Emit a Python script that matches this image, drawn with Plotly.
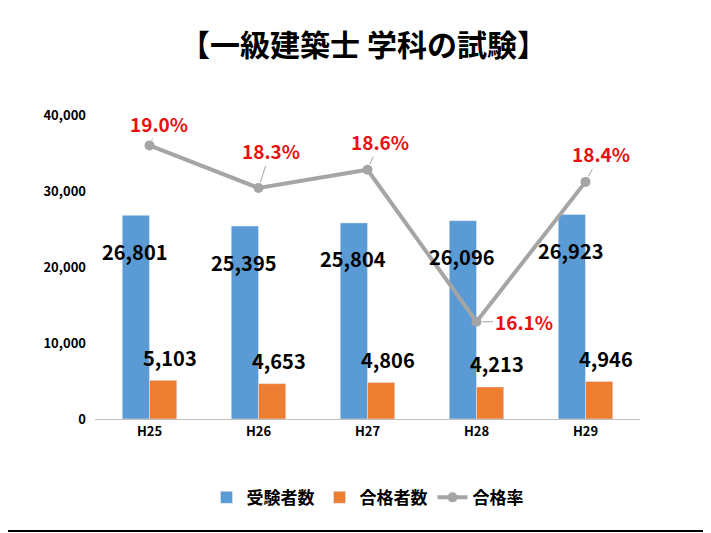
import plotly.graph_objects as go

years = ["H25", "H26", "H27", "H28", "H29"]
examinees = [26801, 25395, 25804, 26096, 26923]
passers = [5103, 4653, 4806, 4213, 4946]
rates = [19.0, 18.3, 18.6, 16.1, 18.4]
rate_label_offsets = [(9, -22), (12, -37), (12, -28), (47, 0), (15, -28)]

F = "Noto Sans CJK JP"
fig = go.Figure()
fig.add_bar(x=years, y=examinees, name="<b>受験者数</b>", marker_color="#5B9BD5", offsetgroup="a")
fig.add_bar(x=years, y=passers, name="<b>合格者数</b>", marker_color="#ED7D31", offsetgroup="b")
fig.add_scatter(x=years, y=rates, name="<b>合格率</b>", yaxis="y2", mode="lines+markers",
                line=dict(color="#A5A5A5", width=4), marker=dict(size=10, color="#A5A5A5"))

ann = []
for x, v in zip(years, examinees):
    ann.append(dict(x=x, y=v, xref="x", yref="y", text=f"<b>{v:,}</b>", showarrow=False,
                    xshift=-15, yshift=-36, font=dict(size=20, color="black", family=F)))
for x, v in zip(years, passers):
    ann.append(dict(x=x, y=v, xref="x", yref="y", text=f"<b>{v:,}</b>", showarrow=False,
                    xshift=20, yshift=23, font=dict(size=20, color="black", family=F)))
for x, v, (dx, dy) in zip(years, rates, rate_label_offsets):
    ann.append(dict(x=x, y=v, xref="x", yref="y2", text=f"<b>{v:.1f}%</b>", showarrow=True,
                    arrowhead=0, arrowcolor="#A5A5A5", arrowwidth=1, ax=dx, ay=dy, standoff=6,
                    font=dict(size=19, color="#E81010", family=F)))

fig.update_layout(
    width=711, height=533, paper_bgcolor="white", plot_bgcolor="white",
    margin=dict(l=87, r=79, t=107, b=122),
    title=dict(text="<b>【一級建築士 学科の試験】</b>", x=0.5, xanchor="center", y=0.93,
               yanchor="middle", font=dict(size=30, color="black", family=F)),
    bargap=0.5, bargroupgap=0,
    xaxis=dict(showline=True, linecolor="#BFBFBF", linewidth=1, ticks="",
               tickprefix="<b>", ticksuffix="</b>",
               tickfont=dict(size=13, color="black", family=F)),
    yaxis=dict(range=[0, 40000], dtick=10000, tickformat=",", showgrid=False, zeroline=False,
               tickprefix="<b>", ticksuffix="</b>",
               tickfont=dict(size=13, color="black", family=F), ticklabelstandoff=8),
    yaxis2=dict(range=[14.5, 19.5], overlaying="y", visible=False),
    legend=dict(orientation="h", x=0.5, xanchor="center", y=-0.2, yanchor="top",
                font=dict(size=17, color="black", family=F)),
    annotations=ann,
    shapes=[dict(type="rect", xref="paper", yref="paper", x0=-93/545, x1=(701-87)/545,
                 y0=-112/304, y1=1+113/304, line=dict(color="black", width=2))],
)
fig.write_html("out.html")
